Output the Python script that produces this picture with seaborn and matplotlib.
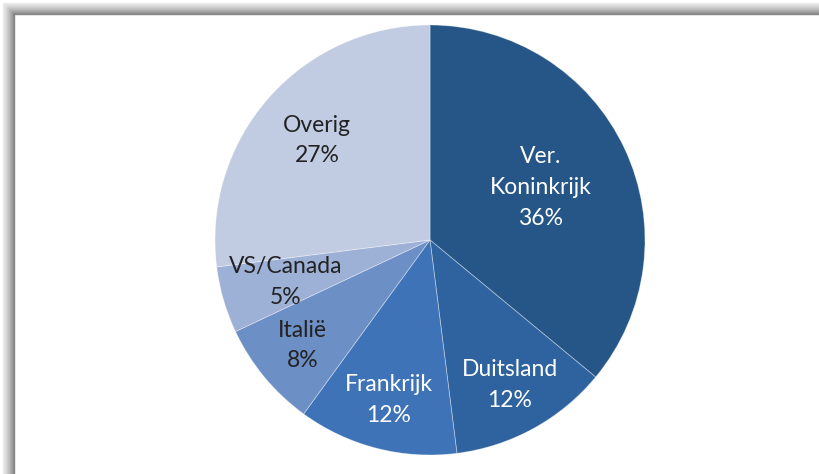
import numpy as np
import matplotlib
matplotlib.use("Agg")
import matplotlib.pyplot as plt
from matplotlib.patches import Rectangle
import seaborn as sns

# data
landen = ["Ver.\nKoninkrijk", "Duitsland", "Frankrijk", "Italië", "VS/Canada", "Overig"]
aandeel = [36, 12, 12, 8, 5, 27]
kleuren = ["#255687", "#2E63A0", "#3E73B8", "#6C8FC5", "#9DB0D6", "#C1CCE2"]
tekstkleur = ["white", "white", "white", "#222222", "#222222", "#222222"]
label_r = [0.57, 0.77, 0.77, 0.77, 0.70, 0.70]

sns.set_theme(style="white")
plt.rcParams["font.family"] = ["Lato", "DejaVu Sans"]

W, H = 820, 474
fig = plt.figure(figsize=(W / 100, H / 100), dpi=100)
fig.patch.set_facecolor("white")

# shadowed frame on left/top
for i in range(12):
    g = 0.92 - 0.40 * (i / 11) ** 1.3
    x0 = (3 + i) / W
    y1 = 1 - (3 + i) / H
    fig.add_artist(Rectangle((x0, -0.1), 1.2, y1 + 0.1, transform=fig.transFigure,
                             fill=False, edgecolor=str(g), linewidth=1.0))

cx, cy, r = 430, H - 240, 215
ax = fig.add_axes([(cx - r) / W, (cy - r) / H, 2 * r / W, 2 * r / H])
wedges, _ = ax.pie(aandeel, colors=sns.color_palette(kleuren), startangle=90,
                   counterclock=False, radius=1,
                   wedgeprops=dict(edgecolor=(1, 1, 1, 0.4), linewidth=0.6))
ax.set_xlim(-1, 1)
ax.set_ylim(-1, 1)
ax.set_aspect("equal")
ax.axis("off")

for w, naam, pct, kl, rr in zip(wedges, landen, aandeel, tekstkleur, label_r):
    hoek = np.deg2rad((w.theta1 + w.theta2) / 2)
    ax.text(rr * np.cos(hoek), rr * np.sin(hoek), f"{naam}\n{pct}%",
            ha="center", va="center", fontsize=16.5, color=kl, linespacing=1.58)

fig.savefig("out.png", dpi=100, facecolor="white")
